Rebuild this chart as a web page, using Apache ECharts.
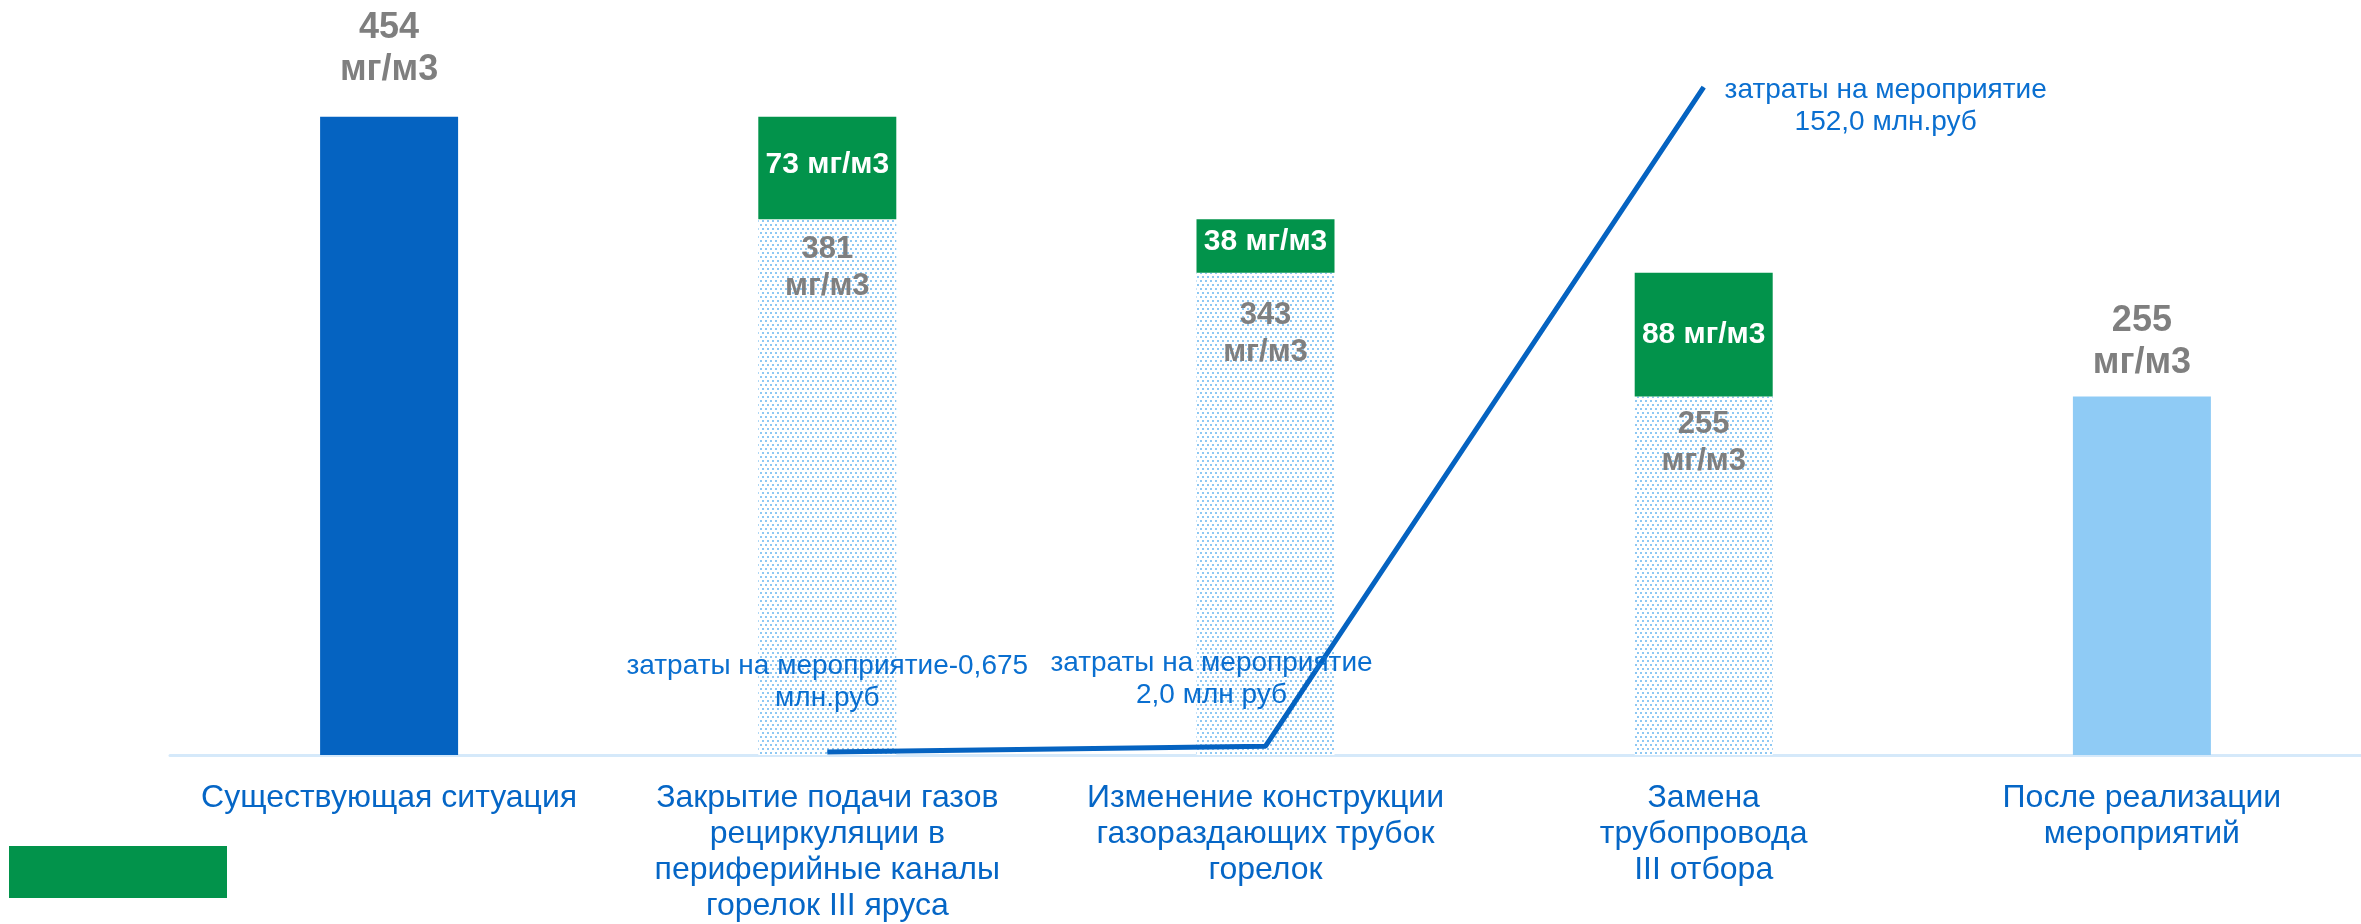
<!DOCTYPE html>
<html>
<head>
<meta charset="utf-8">
<script src="https://cdn.jsdelivr.net/npm/echarts@6/dist/echarts.min.js"></script>
<style>
html,body{margin:0;padding:0;background:#fff;}
#main{width:2361px;height:924px;}
</style>
</head>
<body>
<div id="main"></div>
<script>
// данные
var categories = [
	'Существующая ситуация',
	'Закрытие подачи газов\nрециркуляции в\nпериферийные каналы\nгорелок III яруса',
	'Изменение конструкции\nгазораздающих трубок\nгорелок',
	'Замена\nтрубопровода\nIII отбора',
	'После реализации\nмероприятий'
];
var baseValues = [454, 381, 343, 255, 255];
var reductionValues = ['-', 73, 38, 88, '-'];
var costValues = ['-', 0.675, 2.0, 152.0, '-'];
var costLabels = [
	'',
	'затраты на мероприятие-0,675\nмлн.руб',
	'затраты на мероприятие\n2,0 млн руб',
	'затраты на мероприятие\n152,0 млн.руб',
	''
];

window.onload = function(){
	var myChart = echarts.init(document.getElementById('main'));

	//точечная заливка
	var pc = document.createElement('canvas');
	pc.width = 5; pc.height = 8;
	var ctx = pc.getContext('2d');
	ctx.fillStyle = '#ffffff';
	ctx.fillRect(0, 0, 5, 8);
	ctx.fillStyle = '#8ec8f3';
	ctx.fillRect(0, 0, 2, 2);
	ctx.fillRect(2, 4, 2, 2);
	var dotted = {image: pc, repeat: 'repeat'};

	var font = "'Liberation Sans', Arial, sans-serif";
	var grayLabel = {
		color: '#7f7f7f', fontWeight: 'bold', fontSize: 36, lineHeight: 42,
		fontFamily: font,
		formatter: function(p){ return p.value + '\nмг/м3'; }
	};

	// отступы подписей внутри столбцов
	var insideDist = [0, 12, 24, 9, 0];
	var greenOffset = [0, -3, -4, 0, 0];

	var baseData = [];
	for (var i = 0; i < baseValues.length; i++) {
		var item = {value: baseValues[i]};
		if (i == 0) {
			item.itemStyle = {color: '#0563c1'};
			item.label = {show: true, position: 'top', distance: 26};
		} else if (i == baseValues.length - 1) {
			item.itemStyle = {color: '#8fcbf5'};
			item.label = {show: true, position: 'top', distance: 12};
		} else {
			item.itemStyle = {color: dotted};
			item.label = {show: true, position: 'insideTop', distance: insideDist[i], fontSize: 31, lineHeight: 37};
		}
		baseData.push(item);
	}

	var greenData = [];
	for (var k = 0; k < reductionValues.length; k++) {
		greenData.push({value: reductionValues[k], label: {offset: [0, greenOffset[k]]}});
	}

	var lineData = [];
	var lineLabelPos = [null, {position: 'top', distance: 37, offset: [0, 0]},
		{position: 'top', distance: 34, offset: [-54, 0]},
		{position: 'inside', offset: [182, 19]}, null];
	for (var j = 0; j < costValues.length; j++) {
		var d = {value: costValues[j]};
		if (lineLabelPos[j]) {
			d.label = Object.assign({show: true, formatter: costLabels[j]}, lineLabelPos[j]);
		}
		lineData.push(d);
	}

	var option = {
		backgroundColor: '#ffffff',
		animation: false,
		legend: {
			left: 9, top: 846, padding: 0,
			itemWidth: 218, itemHeight: 52,
			icon: 'rect',
			data: ['Снижение'],
			formatter: function(){ return ''; },
			selectedMode: false
		},
		grid: {left: 170, right: -4, top: 52, bottom: 167},
		xAxis: {
			type: 'category',
			data: categories,
			axisLine: {lineStyle: {color: '#d5e9fa', width: 3}},
			axisTick: {show: false},
			axisLabel: {
				interval: 0, color: '#0566c6', fontSize: 32, lineHeight: 36,
				fontFamily: font, margin: 25, verticalAlign: 'top'
			}
		},
		yAxis: [
			{type: 'value', min: 0, max: 500, show: false, splitLine: {show: false}},
			{type: 'value', min: 0, max: 160, show: false, splitLine: {show: false}}
		],
		series: [
			{
				name: 'База', type: 'bar', stack: 'a', barWidth: 138,
				data: baseData,
				label: grayLabel
			},
			{
				name: 'Снижение', type: 'bar', stack: 'a', barWidth: 138,
				itemStyle: {color: '#02934b'},
				data: greenData,
				label: {
					show: true, position: 'inside', color: '#ffffff',
					fontWeight: 'bold', fontSize: 30, fontFamily: font,
					formatter: function(p){ return p.value + ' мг/м3'; }
				}
			},
			{
				name: 'Затраты', type: 'line', yAxisIndex: 1,
				data: lineData,
				symbol: 'circle', symbolSize: 1,
				itemStyle: {color: '#0563c1'},
				lineStyle: {color: '#0563c1', width: 5},
				label: {
					color: '#0a6fd0', fontSize: 28, lineHeight: 32,
					fontFamily: font, align: 'center'
				},
				z: 5
			}
		]
	};
	myChart.setOption(option);
};
</script>
</body>
</html>
